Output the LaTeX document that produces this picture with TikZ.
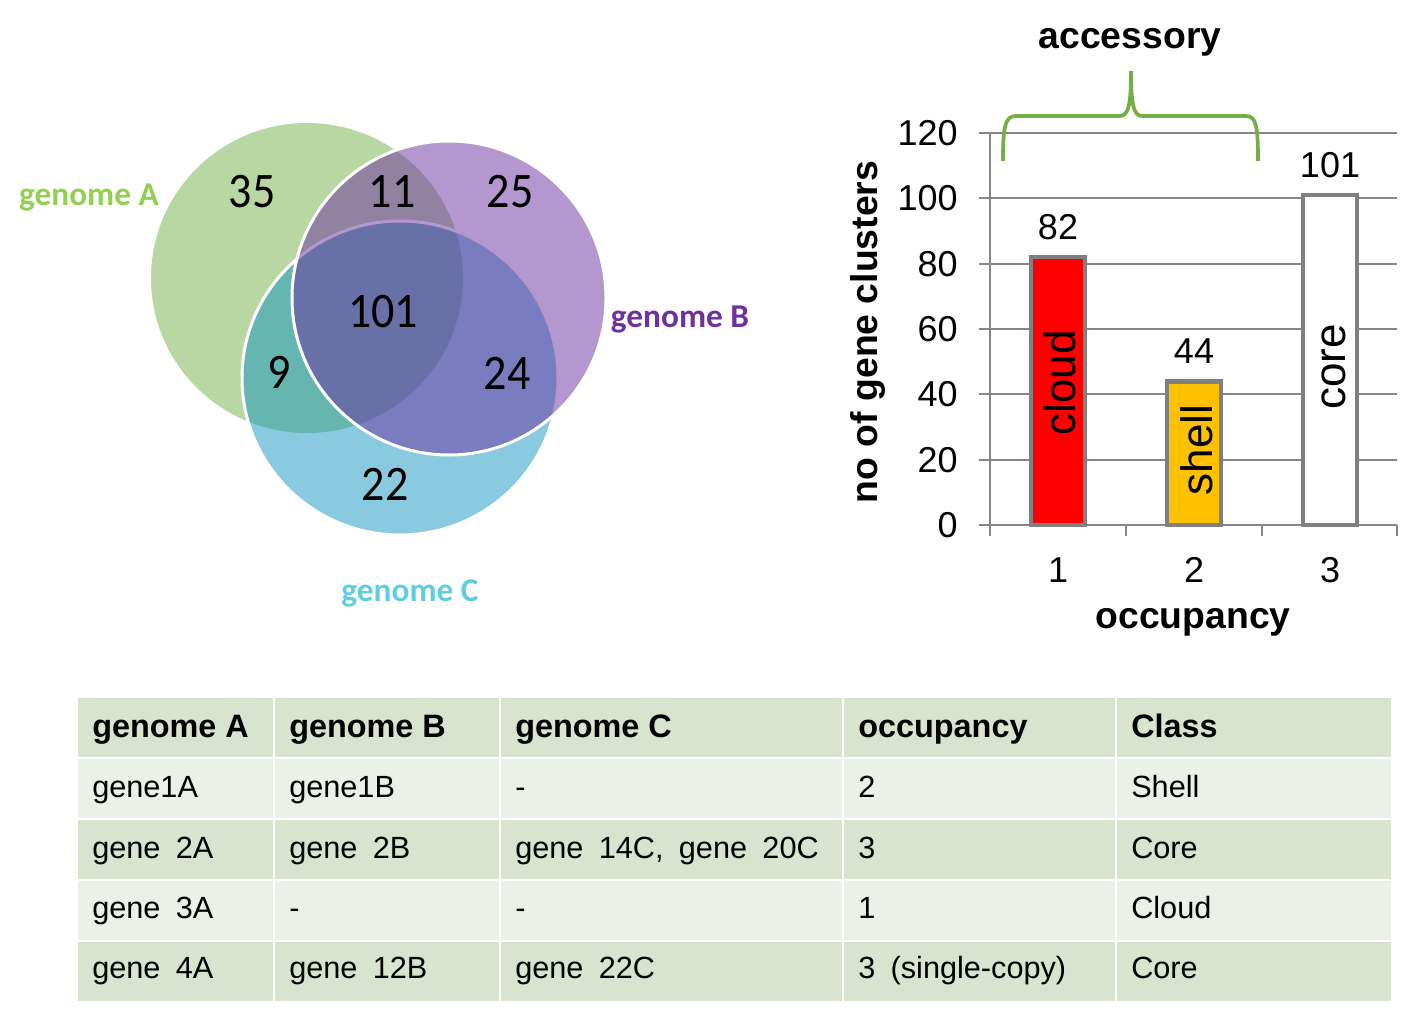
\documentclass[tikz,border=0pt]{standalone}
\usepackage{fontspec}
\setmainfont{Liberation Sans}
\newfontfamily\vennfont{Carlito}
\newfontfamily\tabfont[WordSpace=1.8]{Liberation Sans}

\definecolor{gridgray}{HTML}{868686}
\definecolor{bargray}{HTML}{808080}
\definecolor{vennA}{HTML}{B9D7A2}
\definecolor{vennB}{RGB}{105,47,159}
\definecolor{vennC}{RGB}{11,145,192}
\definecolor{labA}{HTML}{92D050}
\definecolor{labB}{HTML}{7030A0}
\definecolor{labC}{HTML}{5FCFE0}
\definecolor{bracegreen}{HTML}{74AF45}
\definecolor{shellorange}{HTML}{FFC000}
\definecolor{rowdark}{HTML}{D8E4CE}
\definecolor{rowlight}{HTML}{EBF0E8}

\begin{document}
\begin{tikzpicture}[x=0.75pt, y=-0.75pt,
	vnum/.style={font=\vennfont\fontsize{34.5}{40}\selectfont, inner sep=0pt, yscale=1.08},
	vlab/.style={font=\vennfont\bfseries\fontsize{25}{30}\selectfont, inner sep=0pt, anchor=base},
	ticklab/.style={font=\fontsize{27}{32}\selectfont, inner sep=0pt},
	axtitle/.style={font=\bfseries\fontsize{28}{33}\selectfont, inner sep=0pt, anchor=base},
	barlab/.style={font=\fontsize{33}{38}\selectfont, inner sep=0pt, rotate=90},
	gridline/.style={draw=gridgray, line width=1.5pt},
	bar/.style={draw=bargray, line width=3.4pt},
	sep/.style={draw=white, line width=1.9pt},
	cell/.style={font=\tabfont\fontsize{23}{27}\selectfont, inner sep=0pt, anchor=base west},
	headcell/.style={font=\bfseries\fontsize{24.3}{28}\selectfont, inner sep=0pt, anchor=base west}]
	\useasboundingbox (0,0) rectangle (1419,1009);

	% Venn diagram: A below, then C, then B on top
	\fill[vennA] (307,278) ellipse [x radius=156, y radius=155];
	\draw[fill=vennC, fill opacity=0.48, draw=white, line width=2.25pt] (400,378) ellipse [x radius=158, y radius=157];
	\draw[fill=vennB, fill opacity=0.5, draw=white, line width=2.25pt] (449,298) ellipse [x radius=157, y radius=157];

	% Region counts
	\node[vnum] (nA) at (252,192) {35};
	\node[vnum] (nAB) at (392,192) {11};
	\node[vnum] (nB) at (510,192) {25};
	\node[vnum] (nABC) at (383,312) {101};
	\node[vnum] (nAC) at (279,372) {9};
	\node[vnum] (nBC) at (507,373) {24};
	\node[vnum] (nC) at (385,484) {22};

	% Genome labels
	\node[vlab, labA] (labelA) at (89,206) {genome A};
	\node[vlab, labB] (labelB) at (680,327) {genome B};
	\node[vlab, labC] (labelC) at (410,601) {genome C};

	% Draw gridlines and y ticks
	\foreach \v in {0,20,...,120} {
		\draw[gridline] (979,{525-3.267*\v}) -- (1397,{525-3.267*\v});
		\node[ticklab, anchor=east] (y\v) at (958,{525-3.267*\v}) {\v};
	}
	\draw[gridline] (990,133) -- (990,525);
	\foreach \t in {990,1126,1262,1397}
		\draw[gridline] (\t,525) -- (\t,536);

	% Bars
	\draw[bar, fill=red] (1031,525) rectangle (1085,{525-3.267*82});
	\draw[bar, fill=shellorange] (1167,525) rectangle (1221,{525-3.267*44});
	\draw[bar, fill=white] (1303,525) rectangle (1357,{525-3.267*101});

	% Bar values and names
	\node[ticklab] (v82) at (1058,227) {82};
	\node[ticklab] (v44) at (1194,351) {44};
	\node[ticklab] (v101) at (1330,165) {101};
	\node[barlab] (cloud) at (1060,383) {cloud};
	\node[barlab] (shell) at (1197,450) {shell};
	\node[barlab] (core) at (1334,367) {core};

	% x labels and axis titles
	\node[ticklab] (x1) at (1058,570) {1};
	\node[ticklab] (x2) at (1194,570) {2};
	\node[ticklab] (x3) at (1330,570) {3};
	\node[axtitle] (occ) at (1193,628) {occupancy};
	\node[axtitle, rotate=90] (ncl) at (877,332) {no of gene clusters};
	\node[axtitle] (acc) at (1130,49) {accessory};

	% Brace over cloud and shell
	\draw[bracegreen, line width=2.8pt] (1003,161) .. controls (1003,126) and (1005,116) .. (1016,116)
		-- (1120,116) .. controls (1129,116) and (1131,102) .. (1131,71)
		.. controls (1131,102) and (1133,116) .. (1142,116)
		-- (1246,116) .. controls (1256,116) and (1258,126) .. (1258,161);

	% Table rows
	\fill[rowdark] (78,698) rectangle (1391,758);
	\fill[rowlight] (78,758) rectangle (1391,819);
	\fill[rowdark] (78,819) rectangle (1391,880);
	\fill[rowlight] (78,880) rectangle (1391,941);
	\fill[rowdark] (78,941) rectangle (1391,1001);
	\foreach \yy in {758,819,880,941}
		\draw[sep] (78,\yy) -- (1391,\yy);
	\foreach \xx in {274,500,843,1116}
		\draw[sep] (\xx,698) -- (\xx,1001);

	% Table header
	\node[headcell] (hA) at (92,737) {genome A};
	\node[headcell] (hB) at (289,737) {genome B};
	\node[headcell] (hC) at (515,737) {genome C};
	\node[headcell] (hO) at (858,737) {occupancy};
	\node[headcell] (hK) at (1131,737) {Class};

	% Table body
	\node[cell] (r1a) at (92,797) {gene1A};
	\node[cell] (r1b) at (289,797) {gene1B};
	\node[cell] (r1c) at (515,797) {-};
	\node[cell] (r1o) at (858,797) {2};
	\node[cell] (r1k) at (1131,797) {Shell};

	\node[cell] (r2a) at (92,858) {gene 2A};
	\node[cell] (r2b) at (289,858) {gene 2B};
	\node[cell] (r2c) at (515,858) {gene 14C, gene 20C};
	\node[cell] (r2o) at (858,858) {3};
	\node[cell] (r2k) at (1131,858) {Core};

	\node[cell] (r3a) at (92,918) {gene 3A};
	\node[cell] (r3b) at (289,918) {-};
	\node[cell] (r3c) at (515,918) {-};
	\node[cell] (r3o) at (858,918) {1};
	\node[cell] (r3k) at (1131,918) {Cloud};

	\node[cell] (r4a) at (92,978) {gene 4A};
	\node[cell] (r4b) at (289,978) {gene 12B};
	\node[cell] (r4c) at (515,978) {gene 22C};
	\node[cell] (r4o) at (858,978) {3 (single-copy)};
	\node[cell] (r4k) at (1131,978) {Core};
\end{tikzpicture}
\end{document}
